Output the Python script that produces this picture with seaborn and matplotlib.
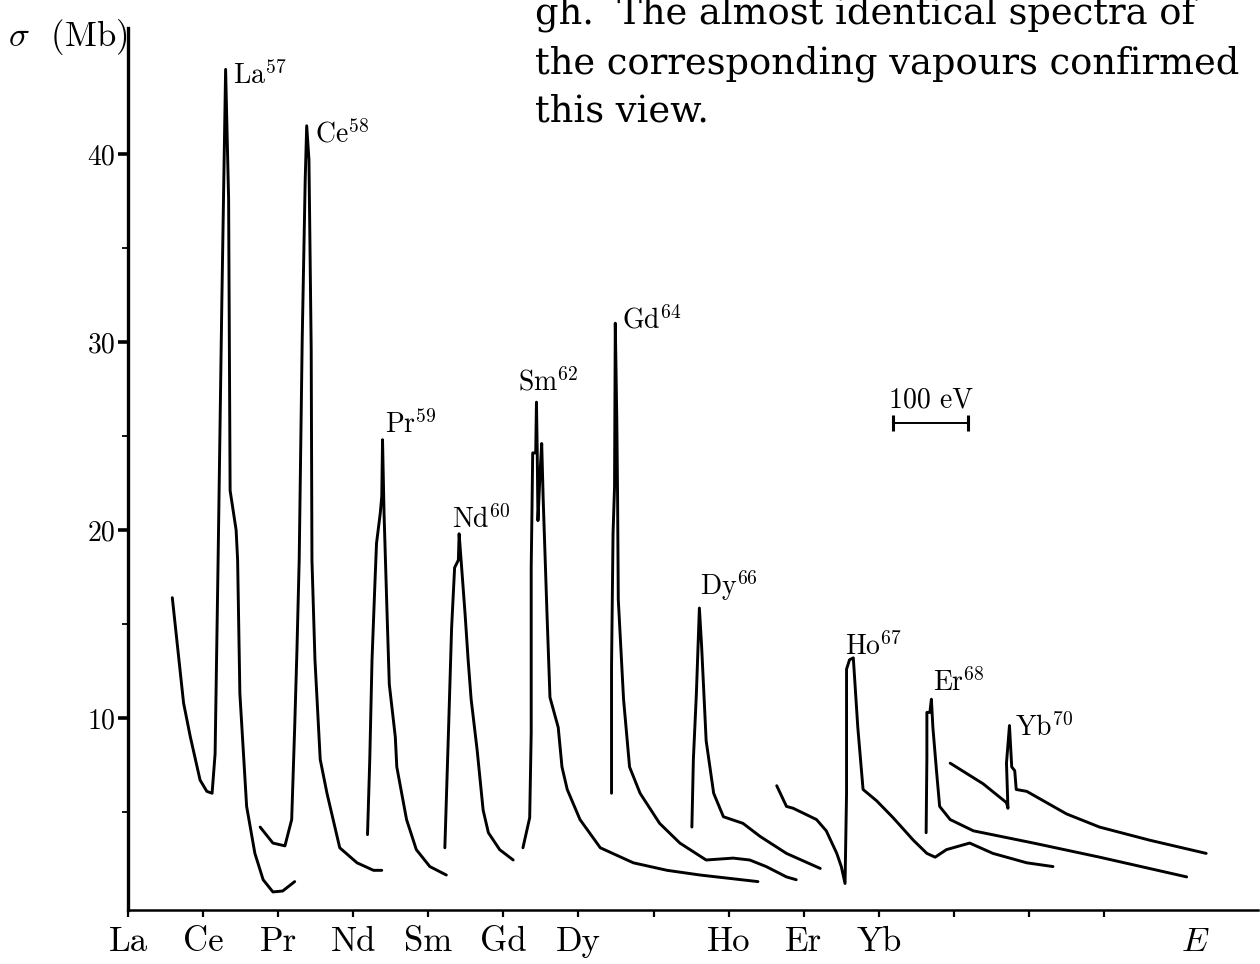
import matplotlib
matplotlib.use("Agg")
import matplotlib.pyplot as plt
import seaborn as sns

# ---------------------------------------------------------------------------
# Data: photon-energy offset in eV (100 eV per axis tick, La tick at 0)
# and absorption cross section sigma in Mb.
# ---------------------------------------------------------------------------
la_e = [59, 74, 83, 96, 105, 112, 116, 120, 125, 130, 134, 136, 144, 146, 149, 158, 169, 180, 193, 206, 222]
la_s = [16.4, 10.8, 9.0, 6.7, 6.1, 6.0, 8.1, 18.4, 32.2, 44.5, 37.6, 22.1, 20.0, 18.4, 11.3, 5.3, 2.8, 1.4, 0.75, 0.8, 1.3]

ce_e = [176, 193, 209, 218, 222, 225, 228, 232, 236, 238, 241, 244, 245, 249, 256, 265, 282, 305, 327, 338]
ce_s = [4.2, 3.35, 3.2, 4.6, 9.5, 13.6, 18.4, 30.1, 38.6, 41.5, 39.7, 29.6, 18.4, 13.1, 7.8, 6.0, 3.1, 2.3, 1.9, 1.9]

pr_e = [319, 322, 325, 329, 331, 336, 338, 339, 341, 345, 348, 356, 358, 371, 384, 402, 424]
pr_s = [3.8, 7.8, 13.1, 17.3, 19.3, 20.9, 21.8, 24.8, 20.9, 15.6, 11.8, 9.0, 7.4, 4.6, 3.0, 2.1, 1.65]

nd_e = [422, 427, 431, 435, 440, 441, 444, 449, 453, 457, 465, 473, 480, 495, 513]
nd_s = [3.1, 9.5, 14.8, 18.0, 18.4, 19.8, 18.2, 15.5, 13.1, 11.0, 8.3, 5.1, 3.9, 3.0, 2.45]

sm_e = [526, 535, 537, 537, 538, 539, 543, 544, 545, 546, 549, 551, 553, 558, 562, 573, 578, 585,
        602, 629, 673, 718, 762, 839]
sm_s = [3.1, 4.7, 9.2, 18.0, 20.9, 24.1, 24.1, 26.8, 24.3, 20.5, 23.2, 24.6, 21.6, 15.6, 11.1, 9.5,
        7.4, 6.2, 4.6, 3.1, 2.3, 1.9, 1.65, 1.3]

gd_e = [644, 644, 646, 648, 649, 651, 652, 653, 660, 668, 682, 708, 735, 770, 806, 828, 850, 877, 890]
gd_s = [6.0, 12.7, 19.8, 22.3, 31.0, 25.9, 22.0, 16.3, 11.0, 7.4, 6.0, 4.4, 3.35, 2.45, 2.55, 2.45, 2.1, 1.55, 1.4]

dy_e = [751, 753, 757, 761, 764, 770, 780, 793, 819, 842, 877, 922]
dy_s = [4.2, 7.8, 11.3, 15.85, 13.8, 8.8, 6.0, 4.75, 4.4, 3.7, 2.8, 2.0]

ho_e = [864, 877, 886, 917, 930, 944, 950, 955, 957, 957, 961, 966, 972, 979, 997, 1019, 1046, 1064,
        1075, 1090, 1121, 1152, 1197, 1232]
ho_s = [6.4, 5.3, 5.2, 4.6, 4.0, 2.8, 2.1, 1.2, 6.0, 12.6, 13.1, 13.2, 9.5, 6.2, 5.6, 4.7, 3.5, 2.8,
        2.6, 3.0, 3.35, 2.8, 2.3, 2.1]

er_e = [1063, 1064, 1064, 1068, 1070, 1072, 1077, 1081, 1095, 1126, 1206, 1294, 1410]
er_s = [3.9, 7.9, 10.3, 10.3, 11.0, 9.5, 7.1, 5.3, 4.6, 4.0, 3.35, 2.6, 1.55]

yb_e = [1095, 1139, 1170, 1172, 1170, 1174, 1177, 1181, 1183, 1197, 1250, 1294, 1361, 1436]
yb_s = [7.6, 6.5, 5.5, 5.2, 7.6, 9.6, 7.4, 7.2, 6.2, 6.1, 4.9, 4.2, 3.5, 2.8]

peak_labels = ["La$^{57}$", "Ce$^{58}$", "Pr$^{59}$", "Nd$^{60}$", "Sm$^{62}$",
               "Gd$^{64}$", "Dy$^{66}$", "Ho$^{67}$", "Er$^{68}$", "Yb$^{70}$"]

tick_labels = ["La", "Ce", "Pr", "Nd", "Sm", "Gd", "Dy", "", "Ho", "Er", "Yb", "", "", ""]
tick_step_ev = 100
y_major = [10, 20, 30, 40]
y_minor = [5, 15, 25, 35]

scale_bar_e = [1019, 1119]      # a 100 eV scale bar
scale_bar_s = [25.7, 25.7]
energy_label_e = 1421

text_lines = ["gh.  The almost identical spectra of",
              "the corresponding vapours confirmed",
              "this view."]

# ---------------------------------------------------------------------------
# Layout / style (kept separate from data)
# ---------------------------------------------------------------------------
label_offsets = [(5.0, -10.8), (6.0, -12.2), (1.9, 5.0), (-5.3, 4.3), (-13.5, 8.6),
                 (4.5, -3.6), (0.5, 9.4), (-6.0, 2.2), (0.9, 5.8), (4.1, -7.2)]

sns.set_theme(style="ticks")
plt.rcParams.update({
    "font.family": ["cmr10", "DejaVu Serif"],
    "mathtext.fontset": "cm",
    "axes.formatter.use_mathtext": True,
    "axes.unicode_minus": False,
    "axes.edgecolor": "black",
    "text.color": "black",
    "xtick.color": "black",
    "ytick.color": "black",
    "axes.labelcolor": "black",
})

W, H = 1260, 964
fig = plt.figure(figsize=(W / 100, H / 100), dpi=100)
ax = fig.add_axes([128 / W, 54 / H, 1130 / W, 882 / H])
ax.set_xlim(0, 1505)
ax.set_ylim(-0.21, 46.7)

curves = [(la_e, la_s), (ce_e, ce_s), (pr_e, pr_s), (nd_e, nd_s), (sm_e, sm_s),
          (gd_e, gd_s), (dy_e, dy_s), (ho_e, ho_s), (er_e, er_s), (yb_e, yb_s)]

for (e, s), lab, off in zip(curves, peak_labels, label_offsets):
    sns.lineplot(x=e, y=s, ax=ax, sort=False, estimator=None, color="black",
                 lw=2.1, legend=False)
    i = max(range(len(s)), key=lambda k: s[k])
    ax.annotate(lab, xy=(e[i], s[i]), xytext=off, textcoords="offset points",
                ha="left", va="baseline", fontsize=20)

# scale bar with end caps
sns.lineplot(x=scale_bar_e, y=scale_bar_s, ax=ax, sort=False, estimator=None,
             color="black", lw=1.4, legend=False)
ax.plot(scale_bar_e, scale_bar_s, linestyle="none", marker="|", markersize=11,
        markeredgewidth=2.2, color="black")
ax.annotate("100 eV", xy=(sum(scale_bar_e) / 2, scale_bar_s[0]), xytext=(0, 7),
            textcoords="offset points", ha="center", va="bottom", fontsize=20)

# axes styling
sns.despine(ax=ax)
ax.spines["left"].set_linewidth(2.4)
ax.spines["bottom"].set_linewidth(1.8)
ax.set_xticks([k * tick_step_ev for k in range(len(tick_labels))])
ax.set_xticklabels(tick_labels)
ax.tick_params(axis="x", direction="out", length=5, width=1.6, pad=7, labelsize=25)
ax.set_yticks(y_major)
ax.set_yticklabels([str(v) for v in y_major])
ax.set_yticks(y_minor, minor=True)
ax.tick_params(axis="y", which="major", direction="out", length=7, width=2.6, pad=2, labelsize=20)
ax.tick_params(axis="y", which="minor", direction="out", length=4, width=1.3)
ax.set_xlabel("")
ax.set_ylabel("")

ax.annotate("$E$", xy=(energy_label_e, 0), xycoords=("data", "axes fraction"),
            xytext=(0, -12), textcoords="offset points", ha="center", va="top", fontsize=25)

fig.text(128 / W, 1 - 46 / H, r"$\sigma$  (Mb)", ha="right", va="baseline", fontsize=25)

for k, line in enumerate(text_lines):
    fig.text(535 / W, 1 - (24 + 49 * k) / H, line, ha="left", va="baseline",
             fontsize=26.5, family="DejaVu Serif")

fig.savefig("out.png", dpi=100)
